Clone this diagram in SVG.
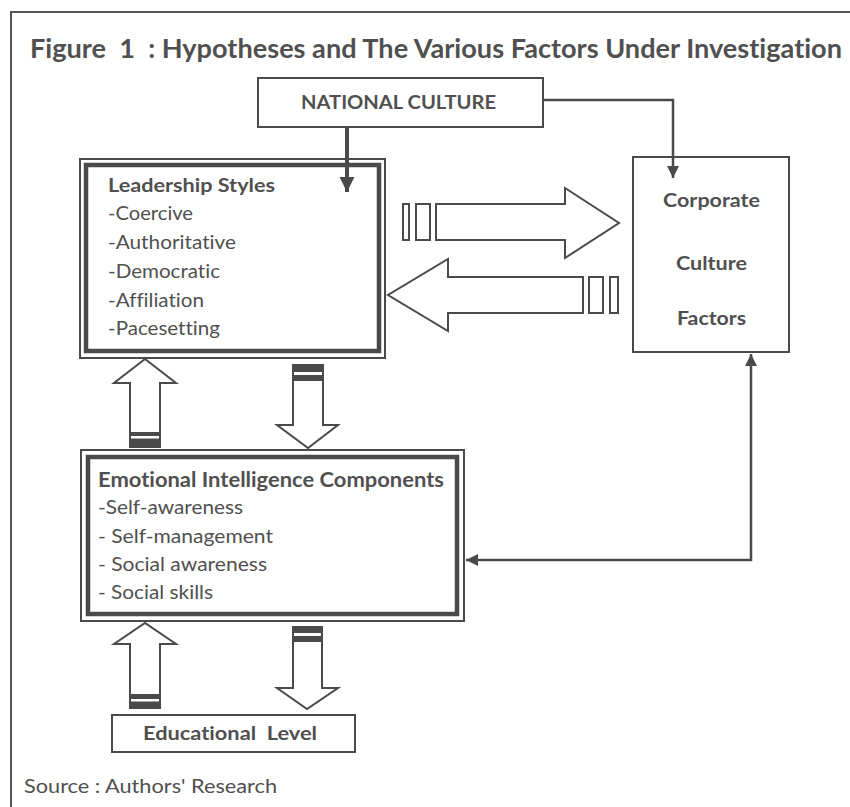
<svg xmlns="http://www.w3.org/2000/svg" width="850" height="807" viewBox="0 0 850 807">
<style>
text{font-family:Lato,"Open Sans","Liberation Sans",sans-serif;fill:#505050;font-variant-ligatures:none;font-feature-settings:"liga" 0,"clig" 0,"dlig" 0}
.b{font-weight:bold}
.box{fill:#fff;stroke:#4a4a4a;stroke-width:2}
.thick{fill:none;stroke:#4a4a4a;stroke-width:4.5}
.blk{fill:#fff;stroke:#4a4a4a;stroke-width:2;stroke-linejoin:miter}
.band{fill:#4a4a4a}
.stripe{fill:#fff}
.ln{fill:none;stroke:#4a4a4a;stroke-width:2.5}
</style>
<defs>
<marker id="ah" viewBox="0 0 10 10" refX="10" refY="5" markerUnits="userSpaceOnUse" markerWidth="12" markerHeight="12" orient="auto-start-reverse">
<path d="M0,0 L10,5 L0,10 z" fill="#4a4a4a"/>
</marker>
<marker id="ahb" viewBox="0 0 10 10" refX="10" refY="5" markerUnits="userSpaceOnUse" markerWidth="15" markerHeight="16" orient="auto">
<path d="M0,0 L10,5 L0,10 z" fill="#4a4a4a"/>
</marker>
</defs>
<rect width="850" height="807" fill="#fff"/>
<path d="M11,807 V12 H850" fill="none" stroke="#555" stroke-width="2"/>
<text class="b" x="30" y="58" font-size="26" textLength="812" lengthAdjust="spacingAndGlyphs" xml:space="preserve">Figure  1  : Hypotheses and The Various Factors Under Investigation</text>

<g id="national-culture">
<rect class="box" x="258" y="78" width="285" height="49"/>
<text class="b" x="301" y="109" font-size="18" textLength="195" lengthAdjust="spacingAndGlyphs">NATIONAL CULTURE</text>
</g>

<g id="corporate-culture">
<rect class="box" x="633" y="157" width="156" height="195"/>
<text class="b" x="663" y="207" font-size="19.5" textLength="97" lengthAdjust="spacingAndGlyphs">Corporate</text>
<text class="b" x="676" y="270" font-size="19.5" textLength="71" lengthAdjust="spacingAndGlyphs">Culture</text>
<text class="b" x="677" y="325" font-size="19.5" textLength="69" lengthAdjust="spacingAndGlyphs">Factors</text>
</g>

<g id="leadership-styles">
<rect class="box" x="80" y="159" width="305" height="199"/>
<rect class="thick" x="86" y="165" width="293" height="186"/>
<text class="b" x="108" y="192" font-size="19.5" textLength="167" lengthAdjust="spacingAndGlyphs">Leadership Styles</text>
<text x="108" y="220" font-size="19" textLength="85" lengthAdjust="spacingAndGlyphs">-Coercive</text>
<text x="108" y="249" font-size="19" textLength="128" lengthAdjust="spacingAndGlyphs">-Authoritative</text>
<text x="108" y="278" font-size="19" textLength="112" lengthAdjust="spacingAndGlyphs">-Democratic</text>
<text x="108" y="307" font-size="19" textLength="96" lengthAdjust="spacingAndGlyphs">-Affiliation</text>
<text x="108" y="335" font-size="19" textLength="112" lengthAdjust="spacingAndGlyphs">-Pacesetting</text>
</g>

<g id="emotional-intelligence">
<rect class="box" x="81" y="450" width="383" height="171"/>
<rect class="thick" x="88" y="457" width="369" height="157"/>
<text class="b" x="98" y="487" font-size="20" textLength="346" lengthAdjust="spacingAndGlyphs">Emotional Intelligence Components</text>
<text x="98" y="514" font-size="19" textLength="145" lengthAdjust="spacingAndGlyphs">-Self-awareness</text>
<text x="98" y="543" font-size="19" textLength="175" lengthAdjust="spacingAndGlyphs" xml:space="preserve">- Self-management</text>
<text x="98" y="571" font-size="19" textLength="169" lengthAdjust="spacingAndGlyphs" xml:space="preserve">- Social awareness</text>
<text x="98" y="599" font-size="19" textLength="115" lengthAdjust="spacingAndGlyphs" xml:space="preserve">- Social skills</text>
</g>

<g id="educational-level">
<rect class="box" x="112" y="715" width="243" height="37"/>
<text class="b" x="143" y="740" font-size="19" textLength="174" lengthAdjust="spacingAndGlyphs" xml:space="preserve">Educational  Level</text>
</g>

<g id="source">
<text x="24" y="793" font-size="18.5" textLength="253" lengthAdjust="spacingAndGlyphs">Source : Authors' Research</text>
</g>

<g id="connectors">
<path class="ln" d="M543,100 H673 V178" marker-end="url(#ah)"/>
<path d="M347,127 V192" fill="none" stroke="#4a4a4a" stroke-width="4" marker-end="url(#ahb)"/>
<path class="ln" d="M466,560 H751 V354" marker-start="url(#ah)" marker-end="url(#ah)"/>

<!-- Leadership -> Corporate -->
<rect class="blk" x="403" y="204" width="6" height="36"/>
<rect class="blk" x="416" y="204" width="14" height="36"/>
<polygon class="blk" points="436,204 565,204 565,188 619,223 565,258 565,240 436,240"/>

<!-- Corporate -> Leadership -->
<polygon class="blk" points="583,277 448,277 448,259 388,295 448,331 448,313 583,313"/>
<rect class="blk" x="589" y="277" width="14" height="36"/>
<rect class="blk" x="610" y="277" width="8" height="36"/>

<!-- EI -> Leadership (up) -->
<polygon class="blk" points="130,447 130,383 114,383 145,359 176,383 160,383 160,447"/>
<rect class="band" x="130" y="432" width="30" height="15"/>
<rect class="stripe" x="131" y="436" width="28" height="2.5"/>

<!-- Leadership -> EI (down) -->
<polygon class="blk" points="293,365 323,365 323,425 338,425 308,448 277,425 293,425"/>
<rect class="band" x="293" y="365" width="30" height="16"/>
<rect class="stripe" x="294" y="372" width="28" height="3"/>

<!-- Educational -> EI (up) -->
<polygon class="blk" points="130,708 130,644 114,644 145,623 176,644 160,644 160,708"/>
<rect class="band" x="130" y="694" width="30" height="14"/>
<rect class="stripe" x="131" y="699" width="28" height="2.5"/>

<!-- EI -> Educational (down) -->
<polygon class="blk" points="293,627 322,627 322,688 338,688 307,709 277,688 293,688"/>
<rect class="band" x="293" y="627" width="29" height="15"/>
<rect class="stripe" x="294" y="633" width="27" height="3"/>
</g>
</svg>
